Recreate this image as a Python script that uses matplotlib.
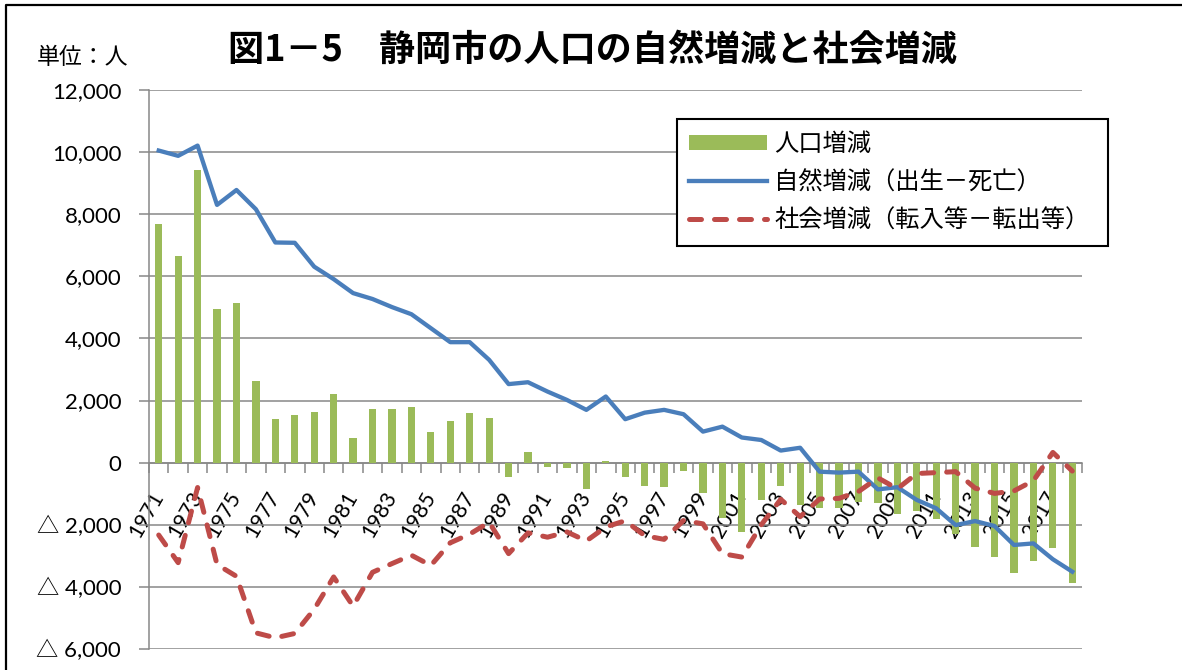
#
#   Shizuoka city population change: natural vs social increase
#   Output: out.png
#

import numpy as np
import matplotlib
matplotlib.use("Agg")
import matplotlib.pyplot as plt
from matplotlib.lines import Line2D
from matplotlib.ticker import FuncFormatter, FixedLocator

YEARS = list(range(1971, 2019))

# 人口増減 (bars)
POP_CHANGE = [
    7690, 6660, 9430, 4950, 5130, 2630, 1400, 1550, 1640, 2220,
    790, 1730, 1740, 1790, 990, 1340, 1600, 1440, -450, 340,
    -130, -180, -860, 50, -470, -750, -770, -270, -970, -1790,
    -2240, -1200, -740, -1360, -1470, -1470, -1260, -1310, -1660, -1560,
    -1820, -2300, -2700, -3030, -3560, -3160, -2760, -3880,
]

# 自然増減 (出生－死亡)
NATURAL = [
    10050, 9880, 10210, 8300, 8780, 8160, 7090, 7080, 6310, 5910,
    5460, 5270, 5010, 4780, 4330, 3880, 3880, 3310, 2530, 2590,
    2290, 2020, 1700, 2130, 1400, 1610, 1700, 1560, 1000, 1160,
    810, 730, 390, 480, -290, -320, -290, -860, -790, -1200,
    -1470, -2010, -1880, -2040, -2650, -2600, -3110, -3510,
]

# 社会増減 (転入等－転出等)
SOCIAL = [
    -2330, -3220, -800, -3280, -3660, -5480, -5640, -5500, -4720, -3680,
    -4620, -3530, -3250, -2980, -3310, -2580, -2300, -1920, -2930, -2260,
    -2400, -2230, -2520, -2070, -1870, -2350, -2470, -1860, -1970, -2930,
    -3040, -2000, -1180, -1740, -1170, -1150, -930, -490, -840, -350,
    -320, -290, -820, -990, -910, -580, 330, -270,
]

LABELS = ["人口増減", "自然増減（出生－死亡）", "社会増減（転入等－転出等）"]
TITLE = "図1－5　静岡市の人口の自然増減と社会増減"
UNIT = "単位：人"
Y_TICKS = list(range(-6000, 12001, 2000))

GREEN = "#9BBB59"
BLUE = "#4A7EBB"
RED = "#BE4B48"
GRAY = "#888888"

W, H = 1182, 670


def ytick_fmt(v, pos):
    # negatives are written with a triangle, as in Japanese reports
    if v < 0:
        return f"△ {abs(v):,.0f}"
    return f"{v:,.0f}"


def main():
    plt.rcParams["font.family"] = ["Lato", "Noto Sans CJK JP", "DejaVu Sans"]

    fig = plt.figure(figsize=(W / 100, H / 100), dpi=100)
    ax = fig.add_axes([149 / W, 1 - 649 / H, 933 / W, (649 - 90) / H])

    x = np.arange(len(YEARS))
    bars = ax.bar(x, POP_CHANGE, width=0.37, color=GREEN, zorder=2)
    nat, = ax.plot(x, NATURAL, color=BLUE, lw=3.1, zorder=3,
                   solid_joinstyle="round")
    soc, = ax.plot(x, SOCIAL, color=RED, lw=3.6, zorder=4,
                   dashes=(2.4, 2.6), dash_capstyle="round")

    ax.set_xlim(-0.5, len(YEARS) - 0.5)
    ax.set_ylim(-6000, 12000)

    # y axis
    ax.yaxis.set_major_locator(FixedLocator(Y_TICKS))
    ax.yaxis.set_major_formatter(FuncFormatter(ytick_fmt))
    ax.tick_params(axis="y", length=7, width=1.1, color=GRAY, pad=13,
                   labelsize=16)
    ax.grid(axis="y", color=GRAY, lw=1.1, zorder=0)
    ax.set_axisbelow(True)

    # x axis sits on the zero line
    for side in ("top", "right"):
        ax.spines[side].set_visible(False)
    ax.spines["left"].set_color(GRAY)
    ax.spines["left"].set_linewidth(1.1)
    ax.spines["bottom"].set_position(("data", 0))
    ax.spines["bottom"].set_color(GRAY)
    ax.spines["bottom"].set_linewidth(1.1)
    ax.spines["bottom"].set_zorder(1)

    ax.set_xticks(x[::2])
    ax.set_xticklabels([str(y) for y in YEARS[::2]])
    ax.set_xticks(np.arange(-0.5, len(YEARS), 1), minor=True)
    ax.tick_params(axis="x", which="major", length=0, pad=22, labelsize=15.5)
    ax.tick_params(axis="x", which="minor", length=7, width=1.1, color=GRAY)
    for lab in ax.get_xticklabels():
        lab.set_rotation(60)
        lab.set_rotation_mode("anchor")
        lab.set_ha("right")
        lab.set_va("center")

    leg = ax.legend([bars, nat, soc], LABELS, loc="upper left",
                    bbox_to_anchor=(677 / W, 1 - 245 / H, 431 / W, 126 / H),
                    bbox_transform=fig.transFigure, mode="expand",
                    borderaxespad=0, borderpad=0.5,
                    handlelength=3.2, handleheight=0.6, handletextpad=0.3,
                    labelspacing=0.5, fancybox=False, framealpha=1,
                    edgecolor="black", prop={"family": "Noto Sans CJK JP",
                                             "size": 17.5})
    leg.get_frame().set_linewidth(1.5)

    fig.text(228 / W, 1 - 51 / H, TITLE, fontsize=26, fontweight="bold",
             family="Noto Sans CJK JP", ha="left", va="center")
    fig.text(37 / W, 1 - 58 / H, UNIT, fontsize=16.5,
             family="Noto Sans CJK JP", ha="left", va="center")

    # outer frame (only top and left edges fall inside the crop)
    fig.add_artist(Line2D([6 / W, 6 / W, 1.0], [0.0, 1 - 5 / H, 1 - 5 / H],
                          transform=fig.transFigure, color="black", lw=1.6))

    fig.savefig("out.png", dpi=100)
    plt.close(fig)


if __name__ == "__main__":
    main()
